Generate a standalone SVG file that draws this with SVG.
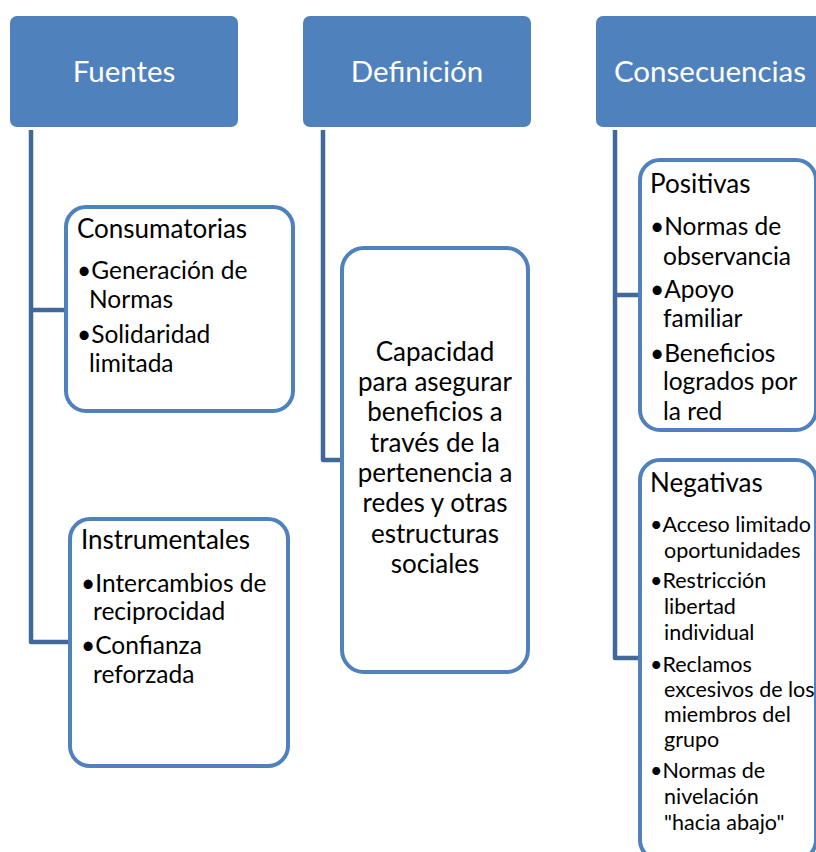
<svg xmlns="http://www.w3.org/2000/svg" width="816" height="852" viewBox="0 0 816 852">
<style>
.hdr{fill:#4F81BD;}
.box{fill:#FFFFFF;stroke:#4F81BD;stroke-width:4;}
.conn{fill:none;stroke:#41689A;stroke-width:4.5;stroke-linejoin:round;}
.ht{font-family:Lato,"Open Sans","Liberation Sans",sans-serif;font-size:29.5px;fill:#FFFFFF;text-anchor:middle;}
.t{font-family:Lato,"Open Sans","Liberation Sans",sans-serif;fill:#000000;}
.tt{font-size:26px;}
.t24{font-size:24.5px;}
.td{font-size:26px;}
.t20{font-size:21.5px;}
.c{text-anchor:middle;}
</style>
<rect width="816" height="852" fill="#FFFFFF"/>
<g id="connectors">
<path class="conn" d="M31,130 V642 H68 M31,310 H66"/>
<path class="conn" d="M323,130 V460 H342"/>
<path class="conn" d="M615,130 V658 H640 M615,295 H640"/>
</g>
<g id="fuentes">
<rect class="hdr" x="10" y="16" width="228" height="111" rx="7"/>
<text class="ht" x="124" y="82">Fuentes</text>
</g>
<g id="definicion">
<rect class="hdr" x="303" y="16" width="228" height="111" rx="7"/>
<text class="ht" x="417" y="82">Definición</text>
</g>
<g id="consecuencias">
<rect class="hdr" x="596" y="16" width="228" height="111" rx="7"/>
<text class="ht" x="710" y="82">Consecuencias</text>
</g>
<g id="consumatorias">
<rect class="box" x="66" y="207" width="227" height="204" rx="20"/>
<text class="t tt" x="77" y="238">Consumatorias</text>
<text class="t t24" x="77" y="279">•Generación de</text>
<text class="t t24" x="89" y="308">Normas</text>
<text class="t t24" x="77" y="343">•Solidaridad</text>
<text class="t t24" x="89" y="372">limitada</text>
</g>
<g id="instrumentales">
<rect class="box" x="70" y="519" width="218" height="247" rx="20"/>
<text class="t tt" x="81" y="549">Instrumentales</text>
<text class="t t24" x="81" y="592">•Intercambios de</text>
<text class="t t24" x="93" y="620">reciprocidad</text>
<text class="t t24" x="81" y="654">•Confianza</text>
<text class="t t24" x="93" y="683">reforzada</text>
</g>
<g id="definicion-texto">
<rect class="box" x="342" y="248" width="186" height="424" rx="22"/>
<text class="t td c" x="435" y="361">Capacidad</text>
<text class="t td c" x="435" y="391">para asegurar</text>
<text class="t td c" x="435" y="421">beneficios a</text>
<text class="t td c" x="435" y="452">través de la</text>
<text class="t td c" x="435" y="482">pertenencia a</text>
<text class="t td c" x="435" y="512">redes y otras</text>
<text class="t td c" x="435" y="543">estructuras</text>
<text class="t td c" x="435" y="573">sociales</text>
</g>
<g id="positivas">
<rect class="box" x="640" y="160" width="176" height="270" rx="20"/>
<text class="t tt" x="650" y="193">Positivas</text>
<text class="t t24" x="650" y="235">•Normas de</text>
<text class="t t24" x="663" y="265">observancia</text>
<text class="t t24" x="650" y="298">•Apoyo</text>
<text class="t t24" x="663" y="327">familiar</text>
<text class="t t24" x="650" y="362">•Beneficios</text>
<text class="t t24" x="663" y="390">logrados por</text>
<text class="t t24" x="663" y="420">la red</text>
</g>
<g id="negativas">
<rect class="box" x="640" y="460" width="176" height="400" rx="20"/>
<text class="t tt" x="650" y="492">Negativas</text>
<text class="t t20" x="650" y="532">•Acceso limitado</text>
<text class="t t20" x="664" y="558">oportunidades</text>
<text class="t t20" x="650" y="588">•Restricción</text>
<text class="t t20" x="664" y="614">libertad</text>
<text class="t t20" x="664" y="640">individual</text>
<text class="t t20" x="650" y="672">•Reclamos</text>
<text class="t t20" x="664" y="697">excesivos de los</text>
<text class="t t20" x="664" y="722">miembros del</text>
<text class="t t20" x="664" y="747">grupo</text>
<text class="t t20" x="650" y="778">•Normas de</text>
<text class="t t20" x="664" y="804">nivelación</text>
<text class="t t20" x="664" y="830">"hacia abajo"</text>
</g>
</svg>
